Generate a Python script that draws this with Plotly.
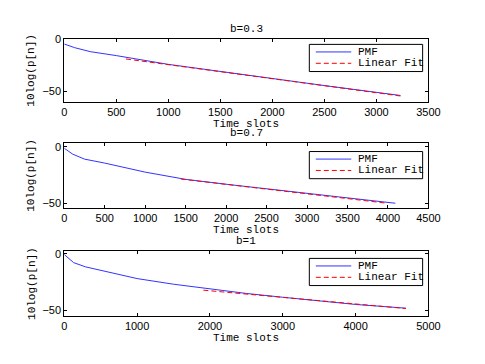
import plotly.graph_objects as go

# b=0.3
pmf1_x = [0, 100, 250, 500, 1000, 1500, 2000, 2500, 3000, 3231]
pmf1_y = [-4.5, -8.0, -11.8, -15.6, -24.0, -30.9, -37.7, -44.3, -50.8, -53.8]
fit1_x = [593, 3231]
fit1_y = [-18.8, -54.3]

# b=0.7
pmf2_x = [0, 104, 250, 500, 1000, 1500, 2000, 2500, 3000, 3500, 4000, 4091]
pmf2_y = [-1.4, -6.6, -11.0, -14.5, -22.5, -28.9, -33.2, -37.3, -41.2, -45.0, -49.0, -50.0]
fit2_x = [1440, 3990]
fit2_y = [-28.6, -50.0]

# b=1
pmf3_x = [0, 128, 293, 500, 1000, 1500, 2000, 2500, 3000, 3500, 4000, 4691]
pmf3_y = [-0.6, -7.8, -11.6, -14.8, -22.0, -27.0, -31.4, -35.2, -38.6, -41.9, -45.0, -48.3]
fit3_x = [1910, 4690]
fit3_y = [-32.3, -48.6]

titles = ["b=0.3", "b=0.7", "b=1"]
legend_names = ["PMF", "Linear Fit"]
xranges = [[0, 3500], [0, 4500], [0, 5000]]
yranges = [[-60, 0.5], [-54.3, 3.5], [-55.2, 2.3]]
xticks = [list(range(0, 3501, 500)), list(range(0, 4501, 500)), list(range(0, 5001, 1000))]

# page body has an 8px margin, so everything is placed 8px up/left
OFF = 8
W, H = 485 - OFF, 364 - OFF
left, right = 63, 439
panels = [(33.3, 97.7), (139.3, 206), (250, 316)]
legend_tops = [39, 148.3, 257.3]

mono = "Liberation Mono"
sans = "Liberation Sans"
blue = "#3333ff"
red = "red"
fitdash = "5px,3px"

fig = go.Figure()
data = [(pmf1_x, pmf1_y, fit1_x, fit1_y), (pmf2_x, pmf2_y, fit2_x, fit2_y), (pmf3_x, pmf3_y, fit3_x, fit3_y)]
for i, (px_, py_, fx, fy) in enumerate(data):
    n = "" if i == 0 else str(i + 1)
    fig.add_scatter(x=px_, y=py_, mode="lines", line=dict(color=blue, width=1),
                    name="PMF", xaxis="x" + n, yaxis="y" + n, showlegend=False)
    fig.add_scatter(x=fx, y=fy, mode="lines", line=dict(color=red, width=1, dash=fitdash),
                    name="Linear Fit", xaxis="x" + n, yaxis="y" + n, showlegend=False)

layout = dict(width=W, height=H, margin=dict(l=0, r=0, t=0, b=0),
              plot_bgcolor="white", paper_bgcolor="white", showlegend=False,
              font=dict(family=mono, size=11, color="black"))
annotations = []
shapes = []


def px2x(p):
    return (p - OFF) / W


def px2y(p):
    return 1 - (p - OFF) / H


for i in range(3):
    n = "" if i == 0 else str(i + 1)
    top, bot = panels[i]
    axstyle = dict(showgrid=False, zeroline=False, showline=True, linecolor="black", linewidth=1,
                   mirror="ticks", ticks="inside", ticklen=3, tickcolor="black",
                   tickfont=dict(family=sans, size=11, color="black"))
    layout["xaxis" + n] = dict(axstyle, domain=[px2x(left), px2x(right)], range=xranges[i],
                               tickvals=xticks[i], anchor="y" + n)
    layout["yaxis" + n] = dict(axstyle, domain=[px2y(bot), px2y(top)], range=yranges[i],
                               tickvals=[-50, 0], anchor="x" + n)
    cx = px2x((left + right) / 2)
    annotations.append(dict(text=titles[i], x=cx, y=px2y(top - 10), xref="paper", yref="paper",
                            showarrow=False, font=dict(family=mono, size=11), yanchor="middle"))
    annotations.append(dict(text="Time slots", x=cx, y=px2y(bot + 22.5), xref="paper", yref="paper",
                            showarrow=False, font=dict(family=mono, size=11), yanchor="middle"))
    annotations.append(dict(text="10log(p[n])", x=px2x(29), y=px2y((top + bot) / 2), xref="paper",
                            yref="paper", showarrow=False, textangle=-90,
                            font=dict(family=mono, size=11), xanchor="center", yanchor="middle"))

    # legend box
    lt = legend_tops[i]
    shapes.append(dict(type="rect", xref="paper", yref="paper", x0=px2x(316), x1=px2x(433),
                       y0=px2y(lt), y1=px2y(lt + 27.7), line=dict(color="black", width=1),
                       fillcolor="white", layer="above"))
    for k, (name, col, dash) in enumerate(zip(legend_names, [blue, red], ["solid", fitdash])):
        ry = lt + 7.7 + k * 11.6
        shapes.append(dict(type="line", xref="paper", yref="paper", x0=px2x(322.7), x1=px2x(359.3),
                           y0=px2y(ry), y1=px2y(ry), line=dict(color=col, width=1, dash=dash),
                           layer="above"))
        annotations.append(dict(text=name, x=px2x(364), y=px2y(ry), xref="paper", yref="paper",
                                xanchor="left", yanchor="middle", showarrow=False,
                                font=dict(family=mono, size=11)))

layout["annotations"] = annotations
layout["shapes"] = shapes
fig.update_layout(**layout)

fig.write_html("out.html")
